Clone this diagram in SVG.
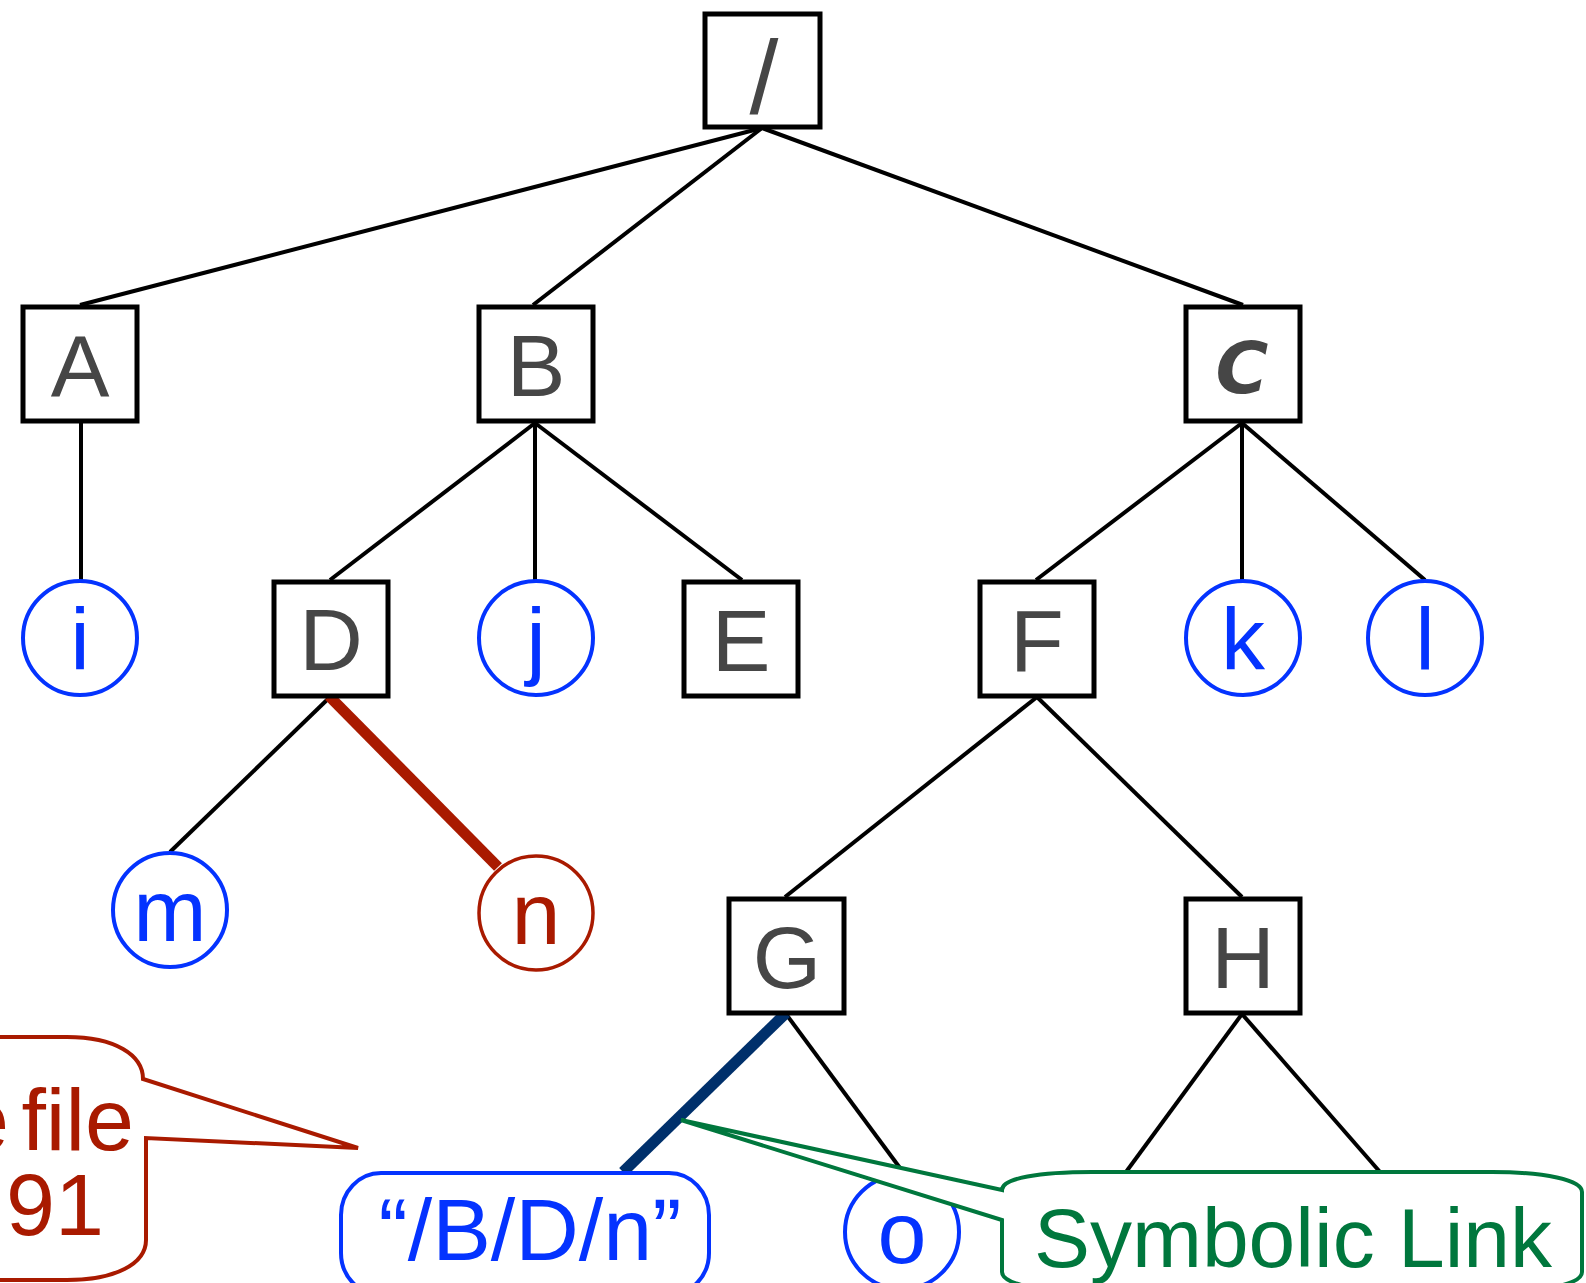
<svg xmlns="http://www.w3.org/2000/svg" width="1586" height="1283" viewBox="0 0 1586 1283">
  <style>
    .box { fill: #ffffff; stroke: #000000; stroke-width: 5; }
    .file { fill: #ffffff; stroke: #0433ff; stroke-width: 4; }
    .lbl { font-family: "Liberation Sans", Arial, sans-serif; font-size: 88px; text-anchor: middle; fill: #464646; }
    .blue { fill: #0433ff; }
    .edge { stroke: #000000; stroke-width: 4; fill: none; }
    .red { fill: #a91a00; }
    .green { fill: #00773d; }
  </style>

  <!-- tree edges -->
  <g id="connectors">
    <line class="edge" x1="762" y1="128" x2="80" y2="305"/>
    <line class="edge" x1="762" y1="128" x2="533" y2="305"/>
    <line class="edge" x1="762" y1="128" x2="1243" y2="305"/>
    <line class="edge" x1="81" y1="423" x2="81" y2="580"/>
    <line class="edge" x1="535" y1="423" x2="330" y2="580"/>
    <line class="edge" x1="535" y1="423" x2="535" y2="580"/>
    <line class="edge" x1="535" y1="423" x2="742" y2="580"/>
    <line class="edge" x1="1242" y1="423" x2="1036" y2="580"/>
    <line class="edge" x1="1242" y1="423" x2="1242" y2="580"/>
    <line class="edge" x1="1242" y1="423" x2="1425" y2="580"/>
    <line class="edge" x1="330" y1="697" x2="170" y2="852"/>
    <line class="edge" x1="1037" y1="697" x2="785" y2="897"/>
    <line class="edge" x1="1037" y1="697" x2="1242" y2="897"/>
    <line class="edge" x1="786" y1="1014" x2="900" y2="1168"/>
    <line class="edge" x1="1242" y1="1014" x2="1126" y2="1172"/>
    <line class="edge" x1="1242" y1="1014" x2="1380" y2="1172"/>
    <!-- highlighted paths -->
    <line x1="329" y1="696" x2="498" y2="867" stroke="#a91a00" stroke-width="11"/>
    <line x1="786" y1="1013" x2="623" y2="1172" stroke="#00306b" stroke-width="11"/>
  </g>

  <!-- directories -->
  <g id="node-root">
    <rect class="box" x="705" y="14" width="115" height="113"/>
    <text class="lbl" x="764" y="113" style="font-size: 104px;">/</text>
  </g>
  <g id="node-A">
    <rect class="box" x="23" y="307" width="114" height="114"/>
    <text class="lbl" x="80" y="397">A</text>
  </g>
  <g id="node-B">
    <rect class="box" x="479" y="307" width="114" height="114"/>
    <text class="lbl" x="536" y="396">B</text>
  </g>
  <g id="node-C">
    <rect class="box" x="1186" y="307" width="114" height="114"/>
    <text class="lbl" x="1242" y="393" style="font-family: 'DejaVu Sans', sans-serif; font-weight: bold; font-style: italic; font-size: 72px;">C</text>
  </g>
  <g id="node-D">
    <rect class="box" x="274" y="582" width="114" height="114"/>
    <text class="lbl" x="331" y="670">D</text>
  </g>
  <g id="node-E">
    <rect class="box" x="684" y="582" width="114" height="114"/>
    <text class="lbl" x="741" y="671">E</text>
  </g>
  <g id="node-F">
    <rect class="box" x="980" y="582" width="114" height="114"/>
    <text class="lbl" x="1037" y="671">F</text>
  </g>
  <g id="node-G">
    <rect class="box" x="729" y="899" width="115" height="114"/>
    <text class="lbl" x="787" y="988">G</text>
  </g>
  <g id="node-H">
    <rect class="box" x="1186" y="899" width="114" height="114"/>
    <text class="lbl" x="1243" y="988">H</text>
  </g>

  <!-- files -->
  <g id="node-i">
    <circle class="file" cx="80" cy="638" r="57"/>
    <text class="lbl blue" x="80" y="669">i</text>
  </g>
  <g id="node-j">
    <circle class="file" cx="536" cy="638" r="57"/>
    <text class="lbl blue" x="536" y="669">j</text>
  </g>
  <g id="node-k">
    <circle class="file" cx="1243" cy="638" r="57"/>
    <text class="lbl blue" x="1243" y="669">k</text>
  </g>
  <g id="node-l">
    <circle class="file" cx="1425" cy="638" r="57"/>
    <text class="lbl blue" x="1425" y="669">l</text>
  </g>
  <g id="node-m">
    <circle class="file" cx="170" cy="910" r="57"/>
    <text class="lbl blue" x="170" y="941">m</text>
  </g>
  <g id="node-n">
    <circle cx="536" cy="913" r="57" fill="#ffffff" stroke="#a91a00" stroke-width="3.5"/>
    <text class="lbl red" x="536" y="944">n</text>
  </g>
  <g id="node-o">
    <circle class="file" cx="902" cy="1232" r="57"/>
    <text class="lbl blue" x="902" y="1263">o</text>
  </g>
  <g id="node-symlink">
    <rect class="file" x="341" y="1173" width="368" height="122" rx="40" ry="42"/>
    <text class="lbl blue" x="530" y="1260">“/B/D/n”</text>
  </g>

  <!-- callouts -->
  <g id="callout-file">
    <path d="M -10 1037 H 67 C 115 1037 143 1055 143 1079 L 358 1148 L 146 1138 V 1240 C 146 1264 115 1280 67 1280 H -10" fill="#ffffff" stroke="#a91a00" stroke-width="4" stroke-linejoin="miter"/>
    <text class="lbl red" x="-40" y="1150" style="text-anchor: start; word-spacing: -12px;">e file</text>
    <text class="lbl red" x="6" y="1235" style="text-anchor: start;">91</text>
  </g>
  <g id="callout-symlink">
    <path d="M 1002 1190 C 1002 1178 1040 1172 1092 1172 H 1492 C 1545 1172 1582 1180 1582 1192 V 1272 C 1582 1284 1545 1292 1492 1292 H 1092 C 1040 1292 1002 1284 1002 1272 V 1220 L 681 1120 Z" fill="#ffffff" stroke="#00773d" stroke-width="4" stroke-linejoin="miter"/>
    <text class="lbl green" x="1293" y="1267" style="font-size: 84px;">Symbolic Link</text>
  </g>
</svg>
